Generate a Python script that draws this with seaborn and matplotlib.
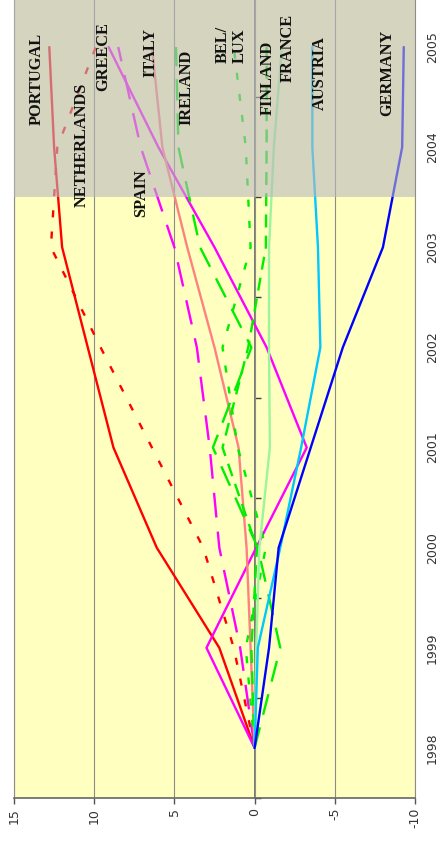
import numpy as np
import pandas as pd
import matplotlib
matplotlib.use("Agg")
import matplotlib.pyplot as plt
import seaborn as sns

# ---------------- data ----------------
years = [1998, 1999, 2000, 2001, 2002, 2003, 2004, 2005]
portugal    = [0, 2.2, 6.1, 8.8, 10.4, 12.0, 12.5, 12.8]
netherlands = [0, 1.3, 3.2, 6.4, 9.6, 12.7, 12.3, 9.9]
greece      = [0, 3.0, -0.1, -3.25, -0.75, 2.5, 6.0, 9.1]
spain       = [0, 0.9, 2.2, 2.8, 3.6, 5.0, 7.1, 8.5]
italy       = [0, 0.25, 0.5, 1.0, 2.5, 4.2, 5.75, 6.4]
ireland     = [0, -1.6, -0.2, 2.6, 0.2, 3.4, 4.75, 4.9]
bellux      = [0, 0.55, -0.7, 1.05, 2.0, 0.25, 0.55, 1.3]
finland     = [0, 0.2, -0.15, 2.0, 0.4, -0.7, -0.75, -0.75]
france      = [0, -0.1, -0.3, -0.95, -0.9, -0.9, -1.2, -1.7]
austria     = [0, -0.2, -1.6, -2.9, -4.1, -3.95, -3.6, -3.6]
germany     = [0, -0.9, -1.5, -3.5, -5.5, -8.0, -9.2, -9.3]

countries = ["PORTUGAL", "NETHERLANDS", "GREECE", "SPAIN", "ITALY", "IRELAND",
             "BEL/\nLUX", "FINLAND", "FRANCE", "AUSTRIA", "GERMANY"]
values = [portugal, netherlands, greece, spain, italy, ireland,
          bellux, finland, france, austria, germany]
value_ticks = [15, 10, 5, 0, -5, -10]
forecast_start = 2003.5

# ---------------- styles ----------------
palette = {
    "PORTUGAL": "#FF0000", "NETHERLANDS": "#FF0000",
    "GREECE": "#FF00FF", "SPAIN": "#FF00FF", "ITALY": "#FF8080",
    "IRELAND": "#00EE00", "BEL/\nLUX": "#00EE00", "FINLAND": "#00EE00",
    "FRANCE": "#9CF59C", "AUSTRIA": "#00C8FF", "GERMANY": "#0000FF",
}
dashes = {
    "PORTUGAL": "", "NETHERLANDS": (3.0, 6.0),
    "GREECE": "", "SPAIN": (10.5, 6.0), "ITALY": "",
    "IRELAND": (9.0, 5.5), "BEL/\nLUX": (3.0, 6.0), "FINLAND": (5.5, 3.5),
    "FRANCE": "", "AUSTRIA": "", "GERMANY": "",
}
# label positions (value, year)
label_pos = {
    "PORTUGAL": (13.56, 2004.68), "NETHERLANDS": (10.8, 2004.02),
    "GREECE": (9.44, 2004.91), "ITALY": (6.5, 2004.95),
    "SPAIN": (7.1, 2003.54), "IRELAND": (4.25, 2004.60),
    "BEL/\nLUX": (1.47, 2005.03), "FINLAND": (-0.81, 2004.69),
    "FRANCE": (-2.06, 2004.99), "AUSTRIA": (-4.06, 2004.74),
    "GERMANY": (-8.3, 2004.74),
}

rows = []
for c, vals in zip(countries, values):
    for y, v in zip(years, vals):
        rows.append({"year": y, "value": v, "country": c})
df = pd.DataFrame(rows)

sns.set_theme(style="white")
plt.rcParams['font.family'] = ['DejaVu Sans']
plt.rcParams['axes.unicode_minus'] = False

fig = plt.figure(figsize=(4.41, 8.44), dpi=100)
ax = fig.add_axes([14 / 441, 46 / 844, 401 / 441, 801 / 844])
ax.set_facecolor("#FFFFC0")

sns.lineplot(data=df, x="value", y="year", hue="country", style="country",
             palette=palette, dashes=dashes, sort=False, estimator=None,
             legend=False, lw=1.7, ax=ax, zorder=3)

ax.set_xlim(15, -10)
ax.set_ylim(1997.5, 2005.5)
ax.set_xlabel("")
ax.set_ylabel("")

# grid
ax.set_xticks(value_ticks)
ax.set_xticklabels([str(v) for v in value_ticks])
ax.grid(axis="x", color="#8c8c8c", lw=0.8)
ax.grid(axis="y", visible=False)
ax.set_axisbelow(True)

# forecast shading (semi-transparent overlay)
ax.axhspan(forecast_start, 2005.5, color="#B9B8BE", alpha=0.6, lw=0, zorder=4)

# year labels on the right
ax.set_yticks(years)
ax.set_yticklabels([str(y) for y in years])
ax.yaxis.tick_right()
ax.tick_params(axis="y", length=0, pad=8, labelrotation=90, labelsize=9,
               labelcolor="#333333")
for lab in ax.get_yticklabels():
    lab.set_va("center")

ax.tick_params(axis="x", direction="out", length=4, width=1, color="#555555",
               pad=3, labelrotation=90, labelsize=9, labelcolor="#333333",
               bottom=True)

for s in ["left", "right"]:
    ax.spines[s].set_color("#8c8c8c")
    ax.spines[s].set_linewidth(0.8)
ax.spines["top"].set_visible(False)
ax.spines["bottom"].set_color("#666666")
ax.spines["bottom"].set_linewidth(1.2)

# zero (category) axis with ticks between years
sec = ax.secondary_yaxis(0.6)
sec.set_ticks([y + 0.5 for y in [1997] + years])
sec.tick_params(direction="out", length=4, width=1, color="#404040",
                labelright=False, labelleft=False)
sec.spines["right"].set_color("#7a7a68")
sec.spines["right"].set_linewidth(1.4)

# series labels
for c in countries:
    v, y = label_pos[c]
    ax.text(v, y, c, rotation=90, ha="center", va="center",
            family=["Liberation Serif", "DejaVu Serif"], fontweight="bold",
            fontsize=11.8, color="#111111", zorder=6,
            multialignment="left", linespacing=1.05)

fig.savefig("out.png", dpi=100)
